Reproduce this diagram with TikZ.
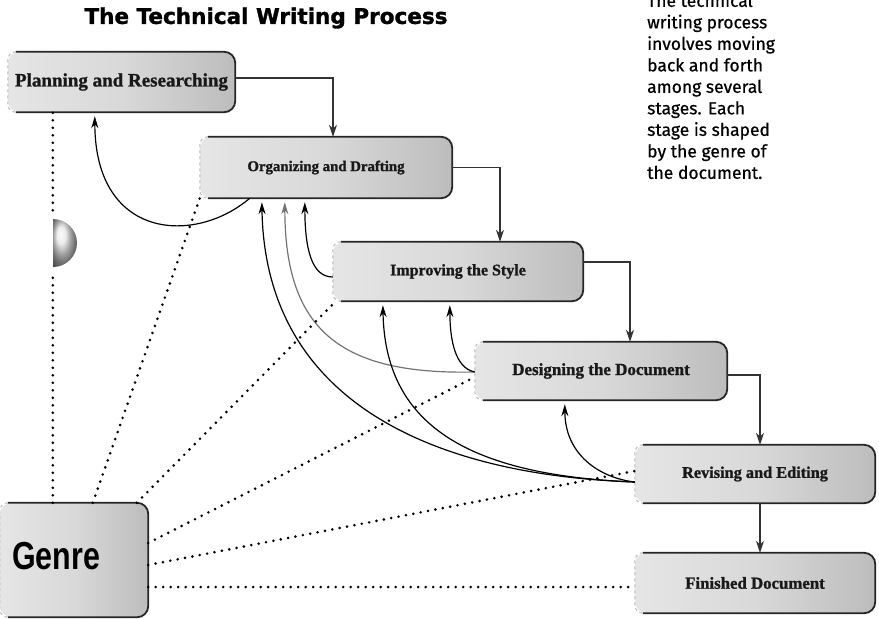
\documentclass[tikz,border=0pt]{standalone}
\usepackage{fontspec}
\usepackage{graphicx}
\setmainfont{Liberation Serif}
\newfontfamily\titlefont[FakeBold=1.5]{DejaVu Sans}
\newfontfamily\sidefont[FakeBold=0.6]{Fira Sans}
\newfontfamily\genrefont{Liberation Sans}
\newfontfamily\stagefamily[FakeBold=1.2]{Liberation Serif}
\usetikzlibrary{arrows.meta}
\begin{document}
\begin{tikzpicture}[x=1pt,y=-1pt,
 stage/.style={rounded corners=11pt, inner sep=0pt, left color=gray!20, right color=gray!52, middle color=gray!30, text=black!90},
 stagefont/.style={font=\stagefamily\fontsize{#1}{#1}\selectfont\bfseries},
 boxedge/.style={draw=black!85, line width=1.8pt, rounded corners=11pt},
 leftedge/.style={draw=gray!55, line width=1pt, dashed, rounded corners=8pt},
 flowarrow/.style={draw=black!80, line width=1.3pt, -{Stealth[length=12pt,width=8pt]}},
 backarrow/.style={draw=black, line width=1.2pt, shorten >=4pt, -{Stealth[length=12pt,width=7pt]}},
 genreline/.style={draw=black, line width=2.9pt, dash pattern=on 0pt off 7.5pt, line cap=round}
]
\useasboundingbox (0,0) rectangle (879,619);
\clip (0,0) rectangle (879,619);

% title and note
\node (title) at (266,18) {\resizebox{363pt}{!}{\titlefont\bfseries The Technical Writing Process}};
\node[anchor=north west, align=left, inner sep=0pt, font=\sidefont\fontsize{17.5}{21.5}\selectfont] (note) at (647,-7)
 {The technical\\writing process\\involves moving\\back and forth\\among several\\stages. Each\\stage is shaped\\by the genre of\\the document.};

% stage boxes
\node[stage, stagefont=19, minimum width=227pt, minimum height=60pt] (plan) at (121.5,82) {Planning and Researching};
\node[stage, stagefont=14.8, minimum width=252pt, minimum height=61pt] (org) at (326,167.5) {Organizing and Drafting};
\node[stage, stagefont=16, minimum width=250pt, minimum height=59pt] (imp) at (458,271.5) {Improving the Style};
\node[stage, stagefont=17, minimum width=252pt, minimum height=58pt] (des) at (601,371) {Designing the Document};
\node[stage, stagefont=16.3, minimum width=240pt, minimum height=58pt] (rev) at (755,474) {Revising and Editing};
\node[stage, stagefont=16.8, minimum width=240pt, minimum height=60pt] (fin) at (755,583) {Finished Document};
\node[stage, minimum width=148pt, minimum height=114pt,
  label={[xshift=-18pt, yshift=4pt, inner sep=0pt, text=black]center:{\scalebox{0.78}[1]{\genrefont\bfseries\fontsize{39}{39}\selectfont Genre}}}] (genre) at (74,560) {};

\foreach \n in {plan,org,imp,des,rev,fin,genre}{
 \draw[leftedge] ([xshift=8pt]\n.north west) -- (\n.north west) -- (\n.south west) -- ([xshift=8pt]\n.south west);
 \draw[boxedge] ([xshift=8pt]\n.north west) -- (\n.north east) -- (\n.south east) -- ([xshift=8pt]\n.south west);
}

% forward flow
\draw[flowarrow] ([yshift=4pt]plan.east) -| ([xshift=7pt]org.north);
\draw[flowarrow] (org.east) -| ([xshift=42pt]imp.north);
\draw[flowarrow] ([yshift=9.5pt]imp.east) -| ([xshift=29pt]des.north);
\draw[flowarrow] ([yshift=-4pt]des.east) -| ([xshift=5pt]rev.north);
\draw[flowarrow] ([xshift=5pt]rev.south) -- ([xshift=5pt]fin.north);

% feedback curves
\draw[backarrow] ([xshift=50pt]org.south west) .. controls (195,245) and (95,240) .. ([xshift=87pt]plan.south west);
\draw[backarrow] ([yshift=-5.5pt]imp.west) .. controls (312,277) and (305,250) .. ([xshift=105pt]org.south west);
\draw[backarrow, draw=black!55] ([yshift=-1pt]des.west) .. controls (340,375) and (285,330) .. ([xshift=85pt]org.south west);
\draw[backarrow] ([yshift=-1pt]des.west) .. controls (455,368) and (450,340) .. ([xshift=117pt]imp.south west);
\draw[backarrow] ([yshift=-8pt]rev.west) .. controls (600,478) and (565,455) .. ([xshift=90pt]des.south west);
\draw[backarrow] ([yshift=-8pt]rev.west) .. controls (460,475) and (385,420) .. ([xshift=50pt]imp.south west);
\draw[backarrow] ([yshift=-8pt]rev.west) .. controls (430,475) and (265,400) .. ([xshift=62pt]org.south west);

% genre influence lines
\draw[genreline] ([xshift=53pt]genre.north west) -- ([xshift=45pt]plan.south west);
\draw[genreline] ([xshift=93pt]genre.north west) -- (org.south west);
\draw[genreline] ([xshift=137pt]genre.north west) -- ([xshift=3pt]imp.south west);
\draw[genreline] ([yshift=17pt]genre.east) -- ([yshift=-6pt]des.west);
\draw[genreline] ([yshift=-5pt]genre.east) -- ([yshift=3pt]rev.west);
\draw[genreline] ([yshift=-27pt]genre.east) -- ([yshift=-4pt]fin.west);

% half sphere on the genre line
\fill[white] (48,214) rectangle (58,272);
\shade[ball color=gray!20] (53,267) arc[start angle=90, end angle=-90, radius=24] -- cycle;
\end{tikzpicture}
\end{document}
